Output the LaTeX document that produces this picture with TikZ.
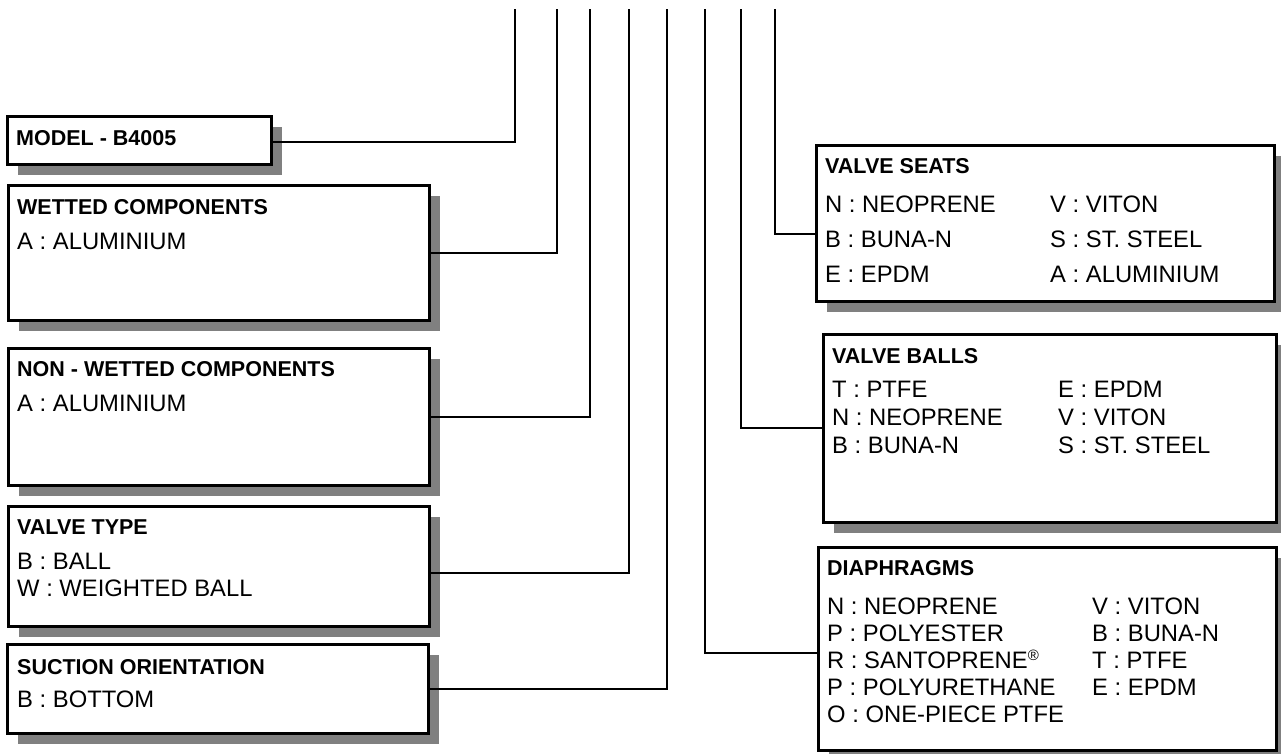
\documentclass[tikz,border=0pt]{standalone}
\usepackage{fontspec}
\setmainfont{Liberation Sans}
\usetikzlibrary{shadows}
\definecolor{shadowgray}{HTML}{808080}
\tikzset{
  box/.style={draw=black, line width=2.7pt, fill=white, rectangle, inner sep=0pt, anchor=north west,
    drop shadow={shadow xshift=11pt, shadow yshift=-11pt, fill=shadowgray, opacity=1}},
  conn/.style={draw=black, line width=2pt},
  head/.style={anchor=base west, inner sep=0pt, font=\fontsize{21.5}{25}\selectfont\bfseries},
  item/.style={anchor=base west, inner sep=0pt, font=\fontsize{23.8}{28}\selectfont},
}
\begin{document}
\begin{tikzpicture}[x=1pt,y=-1pt]
\useasboundingbox (0,0) rectangle (1281,753);
% boxes
\node[box, minimum width=264pt, minimum height=48pt] (model) at (6,115) {};
\node[box, minimum width=421pt, minimum height=135pt] (wet) at (7,184) {};
\node[box, minimum width=421pt, minimum height=137pt] (nonwet) at (7,347) {};
\node[box, minimum width=421pt, minimum height=120pt] (vtype) at (7,505) {};
\node[box, minimum width=421pt, minimum height=89pt] (suction) at (6,643) {};
\node[box, minimum width=458pt, minimum height=156pt] (seats) at (815,144) {};
\node[box, minimum width=453pt, minimum height=188pt] (balls) at (822,333) {};
\node[box, minimum width=458pt, minimum height=203pt] (diaph) at (817,546) {};
% texts left
\node[head] (tmodel) at (16,145) {MODEL - B4005};
\node[head] (twet) at (17,214) {WETTED COMPONENTS};
\node[item] (twet1) at (17,249) {A : ALUMINIUM};
\node[head] (tnon) at (17,376) {NON - WETTED COMPONENTS};
\node[item] (tnon1) at (17,411) {A : ALUMINIUM};
\node[head] (tvt) at (17,534) {VALVE TYPE};
\node[item] (tvt1) at (17,569) {B : BALL};
\node[item] (tvt2) at (17,596) {W : WEIGHTED BALL};
\node[head] (tsu) at (17,674) {SUCTION ORIENTATION};
\node[item] (tsu1) at (17,707) {B : BOTTOM};
% valve seats
\node[head] (tse) at (825,173) {VALVE SEATS};
\node[item] (tse1) at (825,212) {N : NEOPRENE};
\node[item] (tse2) at (825,247) {B : BUNA-N};
\node[item] (tse3) at (825,282) {E : EPDM};
\node[item] (tse4) at (1050,212) {V : VITON};
\node[item] (tse5) at (1050,247) {S : ST. STEEL};
\node[item] (tse6) at (1050,282) {A : ALUMINIUM};
% valve balls
\node[head] (tba) at (832,363) {VALVE BALLS};
\node[item] (tba1) at (832,397) {T : PTFE};
\node[item] (tba2) at (832,425) {N : NEOPRENE};
\node[item] (tba3) at (832,453) {B : BUNA-N};
\node[item] (tba4) at (1058,397) {E : EPDM};
\node[item] (tba5) at (1058,425) {V : VITON};
\node[item] (tba6) at (1058,453) {S : ST. STEEL};
% diaphragms
\node[head] (tdi) at (827,575) {DIAPHRAGMS};
\node[item] (tdi1) at (827,614) {N : NEOPRENE};
\node[item] (tdi2) at (827,641) {P : POLYESTER};
\node[item] (tdi3) at (827,668) {R : SANTOPRENE\raisebox{8pt}{\fontsize{15}{15}\selectfont ®}};
\node[item] (tdi4) at (827,695) {P : POLYURETHANE};
\node[item] (tdi5) at (827,722) {O : ONE-PIECE PTFE};
\node[item] (tdi6) at (1092,614) {V : VITON};
\node[item] (tdi7) at (1092,641) {B : BUNA-N};
\node[item] (tdi8) at (1092,668) {T : PTFE};
\node[item] (tdi9) at (1092,695) {E : EPDM};
% top ends
\coordinate (c1) at (515,9);
\coordinate (c2) at (557,9);
\coordinate (c3) at (590,9);
\coordinate (c4) at (629,9);
\coordinate (c5) at (667,9);
\coordinate (c6) at (705,9);
\coordinate (c7) at (741,9);
\coordinate (c8) at (775,9);
% connectors
\draw[conn] ([yshift=-2pt]model.east) -| (c1);
\draw[conn] (wet.east) -| (c2);
\draw[conn] (nonwet.east) -| (c3);
\draw[conn] ([yshift=-7pt]vtype.east) -| (c4);
\draw[conn] (suction.east) -| (c5);
\draw[conn] ([yshift=-4.5pt]diaph.west) -| (c6);
\draw[conn] (balls.west) -| (c7);
\draw[conn] ([yshift=-11pt]seats.west) -| (c8);
\end{tikzpicture}
\end{document}
